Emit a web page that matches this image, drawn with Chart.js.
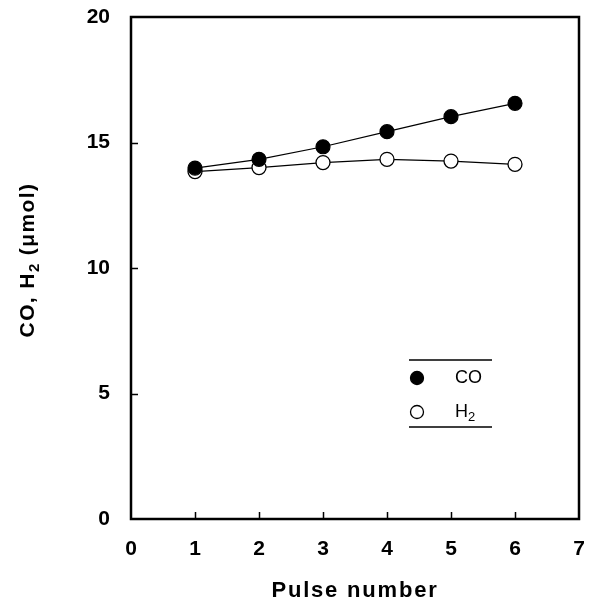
<!DOCTYPE html>
<html>
<head>
<meta charset="utf-8">
<script src="https://cdn.jsdelivr.net/npm/chart.js@4"></script>
<style>
  html, body { margin: 0; padding: 0; background: #fff; }
  #wrap { width: 595px; height: 606px; }
</style>
</head>
<body>
<div id="wrap"><canvas id="c" width="595" height="606"></canvas></div>
<script>
// Pulse number vs. CO and H2 produced (µmol)
const pulses = [1, 2, 3, 4, 5, 6];
const coValues = [13.98, 14.33, 14.83, 15.43, 16.03, 16.56];
const h2Values = [13.84, 14.0, 14.2, 14.33, 14.26, 14.13];
const xTicks = [0, 1, 2, 3, 4, 5, 6, 7];
const yTicks = [0, 5, 10, 15, 20];
const seriesNames = ['CO', 'H2'];

const FONT = '"Liberation Sans", Arial, sans-serif';

// Frame around the plot area plus inward tick marks
const framePlugin = {
  id: 'frame',
  afterDatasetsDraw(chart) {
    const { ctx, chartArea: a, scales } = chart;
    ctx.save();
    ctx.strokeStyle = '#000';
    ctx.lineWidth = 1.5;
    ctx.beginPath();
    xTicks.forEach(v => {
      if (v === xTicks[0] || v === xTicks[xTicks.length - 1]) return;
      const px = Math.round(scales.x.getPixelForValue(v)) + 0.5;
      ctx.moveTo(px, a.bottom);
      ctx.lineTo(px, a.bottom - 7);
    });
    yTicks.forEach(v => {
      if (v === yTicks[0] || v === yTicks[yTicks.length - 1]) return;
      const py = Math.round(scales.y.getPixelForValue(v)) + 0.5;
      ctx.moveTo(a.left, py);
      ctx.lineTo(a.left + 7, py);
    });
    ctx.stroke();
    ctx.lineWidth = 2.5;
    ctx.strokeRect(a.left, a.top, a.right - a.left, a.bottom - a.top);
    ctx.restore();
  }
};

// Draws text with a subscript "2" segment
function drawSubText(ctx, parts, x, y, size, bold, align, spacing) {
  const weight = bold ? 'bold ' : '';
  const subSize = Math.round(size * 0.7);
  ctx.letterSpacing = (spacing || 0) + 'px';
  let total = 0;
  parts.forEach(p => {
    ctx.font = weight + (p.sub ? subSize : size) + 'px ' + FONT;
    total += ctx.measureText(p.t).width;
  });
  let cx = align === 'center' ? x - total / 2 : x;
  parts.forEach(p => {
    ctx.font = weight + (p.sub ? subSize : size) + 'px ' + FONT;
    ctx.textBaseline = 'middle';
    ctx.textAlign = 'left';
    ctx.fillText(p.t, cx, p.sub ? y + size * 0.32 : y);
    cx += ctx.measureText(p.t).width;
  });
  ctx.letterSpacing = '0px';
}

// Axis titles and boxed legend
const annotPlugin = {
  id: 'annot',
  afterDraw(chart) {
    const { ctx, chartArea: a } = chart;
    ctx.save();
    ctx.fillStyle = '#000';
    // x title
    drawSubText(ctx, [{ t: 'Pulse number' }], (a.left + a.right) / 2, 591, 22, true, 'center', 1.8);
    // y title, rotated
    ctx.save();
    ctx.translate(28, 260);
    ctx.rotate(-Math.PI / 2);
    drawSubText(ctx, [{ t: 'CO, H' }, { t: '2', sub: true }, { t: ' (\u03bcmol)' }], 0, 0, 21, true, 'center', 1.4);
    ctx.restore();

    // legend
    const lx0 = 409, lx1 = 492;
    ctx.strokeStyle = '#000';
    ctx.lineWidth = 1.5;
    ctx.beginPath();
    ctx.moveTo(lx0, 360); ctx.lineTo(lx1, 360);
    ctx.moveTo(lx0, 427); ctx.lineTo(lx1, 427);
    ctx.stroke();
    const rows = [
      { y: 378, fill: '#000', label: [{ t: seriesNames[0] }] },
      { y: 412, fill: '#fff', label: [{ t: 'H' }, { t: seriesNames[1].slice(1), sub: true }] }
    ];
    rows.forEach(r => {
      ctx.beginPath();
      ctx.arc(417, r.y, 6.5, 0, Math.PI * 2);
      ctx.fillStyle = r.fill;
      ctx.fill();
      ctx.lineWidth = 1.3;
      ctx.stroke();
      ctx.fillStyle = '#000';
      drawSubText(ctx, r.label, 455, r.y, 18, false, 'left', 0);
    });
    ctx.restore();
  }
};

new Chart(document.getElementById('c'), {
  type: 'line',
  data: {
    datasets: [
      {
        label: seriesNames[0],
        data: pulses.map((p, i) => ({ x: p, y: coValues[i] })),
        borderColor: '#000',
        borderWidth: 1.2,
        pointRadius: 7,
        pointBackgroundColor: '#000',
        pointBorderColor: '#000',
        pointBorderWidth: 1.2,
        tension: 0
      },
      {
        label: seriesNames[1],
        data: pulses.map((p, i) => ({ x: p, y: h2Values[i] })),
        borderColor: '#000',
        borderWidth: 1.2,
        pointRadius: 7,
        pointBackgroundColor: '#fff',
        pointBorderColor: '#000',
        pointBorderWidth: 1.3,
        tension: 0
      }
    ]
  },
  options: {
    responsive: false,
    animation: false,
    devicePixelRatio: 1,
    layout: { padding: { top: 17, right: 16, left: 0, bottom: 0 } },
    plugins: { legend: { display: false }, tooltip: { enabled: false } },
    scales: {
      x: {
        type: 'linear',
        min: 0, max: 7,
        afterBuildTicks(s) { s.ticks = xTicks.map(v => ({ value: v })); },
        afterFit(s) { s.height = 87; s.paddingLeft = 0; s.paddingRight = 0; },
        grid: { display: false, drawTicks: false },
        border: { display: false },
        ticks: { color: '#000', padding: 18, font: { family: FONT, size: 21, weight: 'bold' } }
      },
      y: {
        min: 0, max: 20,
        afterBuildTicks(s) { s.ticks = yTicks.map(v => ({ value: v })); },
        afterFit(s) { s.width = 131; s.paddingTop = 0; s.paddingBottom = 0; },
        grid: { display: false, drawTicks: false },
        border: { display: false },
        ticks: { color: '#000', padding: 21, font: { family: FONT, size: 21, weight: 'bold' } }
      }
    }
  },
  plugins: [framePlugin, annotPlugin]
});
</script>
</body>
</html>
